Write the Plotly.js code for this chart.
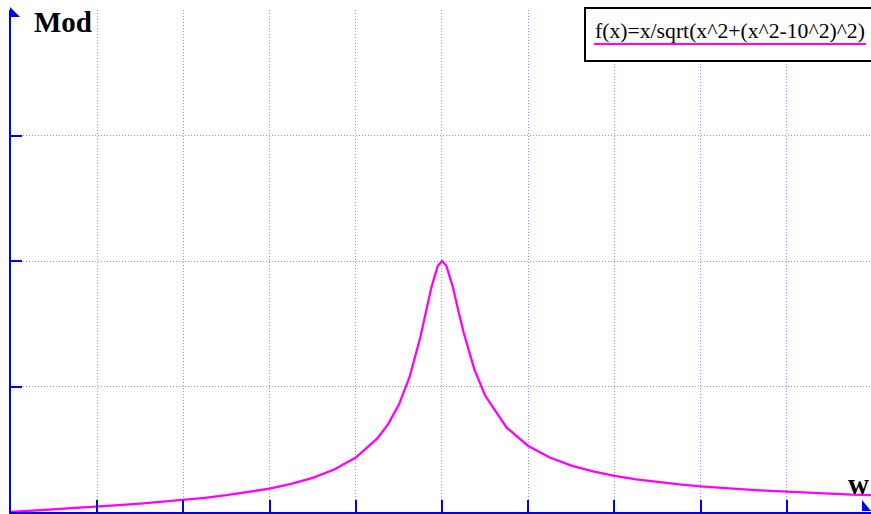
<!DOCTYPE html>
<html>
<head>
<meta charset="utf-8">
<script src="https://cdn.plot.ly/plotly-3.0.1.min.js"></script>
<style>html,body{margin:0;padding:0;background:#fff;}#chart{width:871px;height:514px;}</style>
</head>
<body>
<div id="chart"></div>
<script>
// values (w, Mod)
const wValues = [0, 0.5, 1, 1.5, 2, 2.5, 3, 3.5, 4, 4.5, 5, 5.5, 6, 6.5, 7, 7.5, 8, 8.5, 8.75, 9, 9.25, 9.5, 9.6, 9.75, 9.9, 10, 10.1, 10.25, 10.4, 10.5, 10.75, 11, 11.5, 12, 12.5, 13, 13.5, 14, 14.5, 15, 15.5, 16, 16.5, 17, 17.5, 18, 18.5, 19, 19.5, 20];
const modValues = [0, 0.005, 0.010, 0.015, 0.021, 0.027, 0.033, 0.040, 0.048, 0.056, 0.067, 0.079, 0.093, 0.112, 0.136, 0.169, 0.217, 0.293, 0.350, 0.428, 0.539, 0.698, 0.775, 0.892, 0.980, 1.0, 0.981, 0.897, 0.787, 0.716, 0.568, 0.464, 0.336, 0.263, 0.217, 0.185, 0.162, 0.144, 0.130, 0.119, 0.110, 0.102, 0.095, 0.090, 0.085, 0.080, 0.076, 0.073, 0.069, 0.067];
const legendLabel = "f(x)=x/sqrt(x^2+(x^2-10^2)^2)";
const yLabel = "Mod";
const xLabel = "w";

const W = 871, H = 514;
const M = {l: 11, r: 0, t: 10, b: 2};
const px = x => (x - M.l) / (W - M.l - M.r);
const py = y => (H - M.b - y) / (H - M.t - M.b);
const blue = '#0000ff';
const magenta = '#ff00ff';
const serif = 'Liberation Serif';

const trace = {
  x: wValues, y: modValues, type: 'scatter', mode: 'lines',
  line: {color: magenta, width: 2.3}, name: legendLabel, showlegend: false,
  hoverinfo: 'skip'
};

const gridStyle = {showgrid: true, gridcolor: '#8c8cff', griddash: '1px,2px', gridwidth: 1};

const layout = {
  width: W, height: H,
  margin: M,
  paper_bgcolor: '#fff', plot_bgcolor: '#fff',
  showlegend: false,
  xaxis: Object.assign({
    range: [0, 19.954], tickvals: [2,4,6,8,10,12,14,16,18], showticklabels: false,
    ticks: 'inside', ticklen: 12, tickwidth: 2, tickcolor: blue,
    showline: true, linecolor: blue, linewidth: 3,
    zeroline: false, fixedrange: true
  }, gridStyle),
  yaxis: Object.assign({
    range: [0, 2], tickvals: [0.5, 1, 1.5], showticklabels: false,
    ticks: 'inside', ticklen: 11, tickwidth: 2, tickcolor: blue,
    showline: true, linecolor: blue, linewidth: 2,
    zeroline: false, fixedrange: true
  }, gridStyle),
  shapes: [
    // y-axis arrow head
    {type: 'path', xref: 'paper', yref: 'paper', path: `M ${px(10)} ${py(7)} L ${px(20)} ${py(17)} L ${px(10)} ${py(17)} Z`, fillcolor: blue, line: {width: 0}},
    // x-axis arrow head
    {type: 'path', xref: 'paper', yref: 'paper', path: `M ${px(862)} ${py(500)} L ${px(871)} ${py(511)} L ${px(862)} ${py(511)} Z`, fillcolor: blue, line: {width: 0}},
    // legend box
    {type: 'rect', xref: 'paper', yref: 'paper', x0: px(585), x1: px(874), y0: py(8), y1: py(61), fillcolor: '#fff', line: {color: '#000', width: 2}, layer: 'above'},
    // legend sample line
    {type: 'line', xref: 'paper', yref: 'paper', x0: px(594), x1: px(866), y0: py(44), y1: py(44), line: {color: magenta, width: 2}, layer: 'above'}
  ],
  annotations: [
    {text: '<b>' + yLabel + '</b>', xref: 'paper', yref: 'paper', x: px(32), y: py(22), xanchor: 'left', yanchor: 'middle', showarrow: false,
     font: {family: serif, size: 29, color: '#000'}},
    {text: '<b>' + xLabel + '</b>', xref: 'paper', yref: 'paper', x: px(871), y: py(484), xanchor: 'right', yanchor: 'middle', showarrow: false,
     font: {family: serif, size: 29, color: '#000'}},
    {text: legendLabel, xref: 'paper', yref: 'paper', x: px(593), y: py(31), xanchor: 'left', yanchor: 'middle', showarrow: false,
     font: {family: serif, size: 21.7, color: '#000'}}
  ]
};

Plotly.newPlot('chart', [trace], layout, {displayModeBar: false, staticPlot: true});
</script>
</body>
</html>
